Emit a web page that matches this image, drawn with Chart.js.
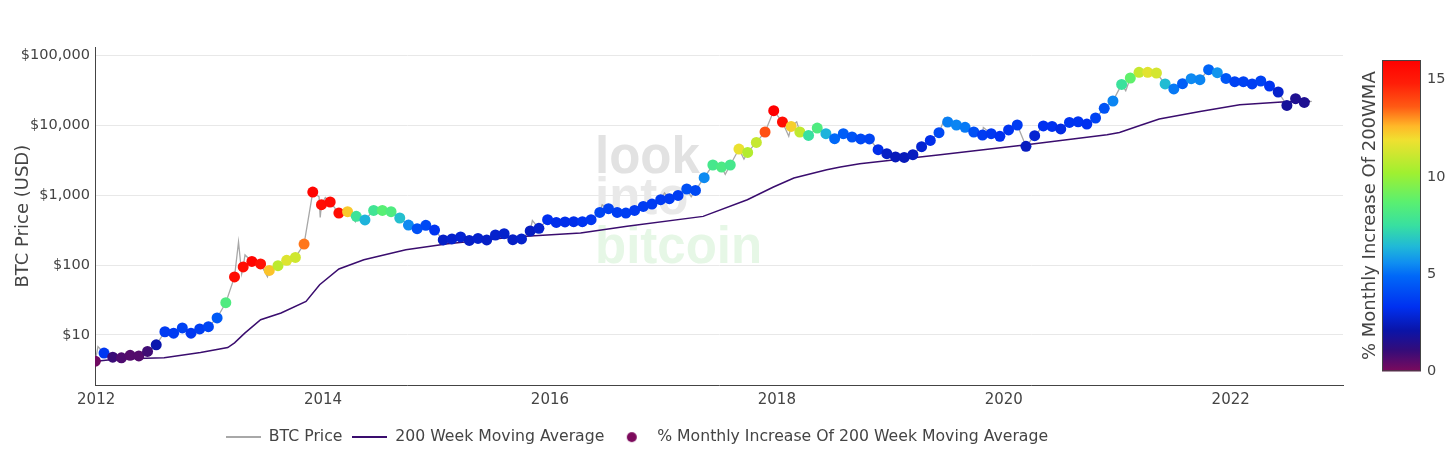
<!DOCTYPE html>
<html>
<head>
<meta charset="utf-8">
<script src="https://cdn.jsdelivr.net/npm/chart.js@4.4.1/dist/chart.umd.min.js"></script>
<style>
  html, body { margin: 0; padding: 0; background: #fff; }
  #wrap { width: 1456px; height: 455px; }
</style>
</head>
<body>
<div id="wrap"><canvas id="btcCanv" width="1456" height="455"></canvas></div>
<script>
/* 4-weekly samples: BTC price and % monthly increase of the 200 week MA */
const sampleStart = 2011.993 // decimal year of the first sample
const sampleStepDays = 28

const markerPrices = [
  4.2, 5.5, 4.8, 4.7, 5.1, 5.0, 5.8, 7.2, 11.1, 10.6,
  12.6, 10.6, 12.2, 13.1, 17.5, 28.9, 67.6, 94, 113, 104,
  84, 98, 117, 129, 200, 1114, 733, 802, 557, 582,
  499, 443, 608, 608, 582, 473, 375, 332, 371, 318,
  229, 237, 253, 226, 241, 229, 270, 282, 231, 237,
  308, 336, 447, 409, 415, 419, 419, 447, 569, 643,
  569, 557, 608, 693, 750, 865, 894, 997, 1231, 1175,
  1786, 2716, 2541, 2716, 4600, 4120, 5730, 8070, 16300, 11220,
  9710, 8070, 7210, 9200, 7640, 6480, 7640, 6840, 6410, 6410,
  4500, 3940, 3540, 3490, 3820, 4970, 6120, 7890, 11220, 10160,
  9400, 8070, 7310, 7640, 6990, 8630, 10160, 5030, 7140, 9840,
  9710, 8920, 11070, 11320, 10490, 12800, 17590, 22440, 38800, 47900,
  57700, 57700, 56500, 39400, 33400, 39700, 46800, 45300, 63000, 57000,
  47300, 42400, 42400, 39400, 43400, 36800, 30200, 19400, 24200, 21400
]
const markerIncrease = [
  0.2, 3.5, 1.0, 0.7, 0.6, 0.6, 0.9, 2.2, 3.6, 3.6,
  3.8, 3.5, 3.7, 3.9, 4.5, 8.3, 15.5, 15.5, 15.8, 15.3,
  12.4, 10.8, 11.5, 11.2, 13.3, 15.8, 15.5, 15.6, 15.5, 12.3,
  7.7, 6.3, 7.8, 8.6, 8.3, 6.6, 5.5, 4.2, 4.0, 3.4,
  2.6, 2.7, 2.8, 2.6, 2.7, 2.6, 2.7, 2.7, 2.6, 2.7,
  2.5, 2.7, 3.3, 3.2, 3.2, 3.2, 3.4, 3.5, 3.9, 3.8,
  3.7, 3.7, 3.6, 3.6, 3.6, 3.6, 3.6, 3.6, 4.2, 4.0,
  5.5, 8.0, 8.2, 8.0, 11.8, 10.6, 11.0, 13.8, 16.0, 15.5,
  12.2, 10.9, 7.5, 8.3, 6.3, 4.9, 4.6, 4.3, 4.0, 3.9,
  3.2, 2.6, 2.4, 2.4, 2.5, 2.8, 3.2, 4.0, 5.3, 5.4,
  5.2, 4.2, 3.6, 3.5, 3.3, 3.4, 3.6, 2.5, 2.8, 3.3,
  3.3, 3.1, 3.4, 3.4, 3.3, 3.8, 4.3, 5.4, 7.6, 8.8,
  11.0, 11.6, 11.3, 6.5, 5.2, 4.6, 5.5, 5.4, 4.8, 5.7,
  4.4, 3.8, 3.8, 3.7, 3.8, 3.4, 2.7, 1.8, 1.6, 1.6
]

/* extra BTC price points between samples (spikes and dips of the daily line) */
const spikeYears = [2012.016, 2013.255, 2013.283, 2013.312, 2013.51, 2013.965, 2013.975, 2014.02,
  2014.285, 2015.845, 2016.46, 2017.01, 2017.245, 2017.545, 2017.71, 2018.105, 2018.175,
  2019.48, 2019.82, 2021.075, 2022.715]
const spikeValues = [6.8, 215, 75, 140, 68, 950, 480, 930,
  420, 435, 730, 1080, 950, 2000, 3300, 7000, 11300,
  12800, 9400, 31500, 22100]

/* 200 week moving average */
const wmaYears = [2012.0, 2012.19, 2012.6, 2012.92, 2013.16, 2013.22, 2013.31, 2013.45, 2013.63,
  2013.85, 2013.97, 2014.14, 2014.36, 2014.73, 2015.10, 2015.68, 2016.27, 2016.68, 2017.35,
  2017.74, 2017.97, 2018.15, 2018.44, 2018.56, 2018.73, 2019.44, 2020.20, 2020.91, 2021.02,
  2021.20, 2021.37, 2021.73, 2022.08, 2022.45, 2022.70]
const wmaValues = [4.2, 4.5, 4.7, 5.6, 6.6, 7.7, 10.6, 16.5, 20.6,
  30.2, 52.4, 88, 119, 166, 203, 253, 289, 359, 499,
  865, 1315, 1770, 2330, 2540, 2840, 3820, 5310, 7380, 7960,
  10020, 12380, 15910, 19860, 21720, 22280]

const xTickYears = [2012, 2014, 2016, 2018, 2020, 2022]
const yTickValues = [10, 100, 1000, 10000, 100000]
const cbTickValues = [0, 5, 10, 15]
const cbMax = 16

/* colour scale of the markers / colorbar */
const colorStopValues = [0, 1.1, 2.1, 3.3, 4.9, 5.6, 6.4, 7.5, 8.7, 10.2, 11.9, 12.6, 13.6, 14.8, 16]
const colorStopColors = ['#7c0a5c', '#330c7a', '#0a14a8', '#0030f0', '#0068f8', '#1090f0', '#20b8d8',
  '#38e0a0', '#5af070', '#a0f030', '#f0e030', '#ffb828', '#ff5a14', '#ff1e08', '#ff0000']

function hexToRgb(h) {
  return [parseInt(h.slice(1, 3), 16), parseInt(h.slice(3, 5), 16), parseInt(h.slice(5, 7), 16)]
}
function colorFor(v) {
  if (v <= colorStopValues[0]) return colorStopColors[0]
  for (let i = 1; i < colorStopValues.length; i++) {
    if (v <= colorStopValues[i]) {
      const t = (v - colorStopValues[i - 1]) / (colorStopValues[i] - colorStopValues[i - 1])
      const a = hexToRgb(colorStopColors[i - 1]), b = hexToRgb(colorStopColors[i])
      const c = a.map((ch, k) => Math.round(ch + (b[k] - ch) * t))
      return `rgb(${c[0]}, ${c[1]}, ${c[2]})`
    }
  }
  return colorStopColors[colorStopColors.length - 1]
}

const markerYears = markerPrices.map((p, i) => sampleStart + i * sampleStepDays / 365.25)
const markerData = markerPrices.map((p, i) => ({x: markerYears[i], y: p}))
const markerColors = markerIncrease.map(colorFor)
const priceData = markerData
  .concat(spikeYears.map((yr, i) => ({x: yr, y: spikeValues[i]})))
  .sort((a, b) => a.x - b.x)
const wmaData = wmaYears.map((yr, i) => ({x: yr, y: wmaValues[i]}))

const PRICE_COLOR = '#a8a8a8'
const WMA_COLOR = '#3a0d6e'
const TEXT_COLOR = '#444'
const FONT = 'DejaVu Sans'

/* little canvases used as legend symbols */
function lineSymbol(color) {
  const c = document.createElement('canvas')
  c.width = 35; c.height = 2
  const x = c.getContext('2d')
  x.fillStyle = color
  x.fillRect(0, 0, 35, 2)
  return c
}
function dotSymbol(color) {
  const c = document.createElement('canvas')
  c.width = 12; c.height = 12
  const x = c.getContext('2d')
  x.fillStyle = color
  x.beginPath(); x.arc(6, 6, 5, 0, Math.PI * 2); x.fill()
  return c
}

/* watermark behind the data */
const watermark = {
  id: 'watermark',
  beforeDatasetsDraw(chart) {
    const {ctx, chartArea} = chart
    const x = chartArea.left + 500
    ctx.save()
    ctx.font = 'bold 51px "Liberation Sans"'
    ctx.textBaseline = 'alphabetic'
    ctx.fillStyle = '#e2e2e2'
    ctx.fillText('look', x, chartArea.top + 126)
    ctx.fillStyle = '#e9e9e9'
    ctx.fillText('into', x, chartArea.top + 167)
    ctx.fillStyle = '#e6f7e6'
    ctx.fillText('bitcoin', x, chartArea.top + 216)
    ctx.restore()
  }
}

/* gradient colorbar drawn on the right hand scale */
const colorbar = {
  id: 'colorbar',
  afterDraw(chart) {
    const s = chart.scales.cb
    const ctx = chart.ctx
    const x0 = s.left + 39, w = 39
    const yb = s.getPixelForValue(0), yt = s.getPixelForValue(cbMax)
    const g = ctx.createLinearGradient(0, yb, 0, yt)
    colorStopValues.forEach((v, i) => g.addColorStop(v / cbMax, colorStopColors[i]))
    ctx.save()
    ctx.fillStyle = g
    ctx.fillRect(x0, yt, w, yb - yt)
    ctx.strokeStyle = TEXT_COLOR
    ctx.lineWidth = 1
    ctx.strokeRect(x0 + 0.5, yt + 0.5, w - 1, yb - yt - 1)
    ctx.translate(s.left + 27, (yt + yb) / 2)
    ctx.rotate(-Math.PI / 2)
    ctx.font = '18px "' + FONT + '"'
    ctx.fillStyle = TEXT_COLOR
    ctx.textAlign = 'center'
    ctx.textBaseline = 'middle'
    ctx.fillText('% Monthly Increase Of 200WMA', 0, 0)
    ctx.restore()
  }
}

/* move the legend under the left part of the plot */
const legendShift = {
  id: 'legendShift',
  afterLayout(chart) {
    chart.legend.left = 216
  }
}

Chart.defaults.font.family = FONT
Chart.defaults.color = TEXT_COLOR

const ctx = document.getElementById('btcCanv')
const btcChart = new Chart(ctx, {
  type: 'scatter',
  data: {
    datasets: [
      {
        label: '% Monthly Increase Of 200 Week Moving Average',
        data: markerData,
        pointRadius: 5.5,
        pointBorderWidth: 0,
        pointBackgroundColor: markerColors,
        pointBorderColor: markerColors,
        showLine: false,
        clip: 0,
        order: 0
      },
      {
        label: '200 Week Moving Average',
        data: wmaData,
        showLine: true,
        borderColor: WMA_COLOR,
        borderWidth: 1.5,
        pointRadius: 0,
        tension: 0,
        order: 1
      },
      {
        label: 'BTC Price',
        data: priceData,
        showLine: true,
        borderColor: PRICE_COLOR,
        borderWidth: 1.3,
        pointRadius: 0,
        tension: 0,
        order: 2
      }
    ]
  },
  options: {
    responsive: false,
    animation: false,
    layout: { padding: { top: 47, left: 0, right: 0, bottom: 0 } },
    scales: {
      x: {
        type: 'linear',
        min: 2011.99,
        max: 2022.99,
        grid: { display: false, drawTicks: false },
        border: { display: true, color: TEXT_COLOR, width: 1 },
        afterBuildTicks: s => { s.ticks = xTickYears.map(v => ({value: v})) },
        afterFit: s => { s.height = 34 },
        ticks: {
          padding: 6,
          maxRotation: 0,
          font: { size: 15 },
          color: TEXT_COLOR,
          callback: v => String(v)
        }
      },
      y: {
        type: 'logarithmic',
        position: 'left',
        min: 1.897,
        max: 133200,
        grid: { color: '#e8e8e8', drawTicks: false },
        border: { display: true, color: TEXT_COLOR, width: 1 },
        afterBuildTicks: s => { s.ticks = yTickValues.map(v => ({value: v})) },
        afterFit: s => { s.width = 95 },
        title: {
          display: true,
          text: 'BTC Price (USD)',
          font: { size: 18 },
          color: TEXT_COLOR,
          padding: { top: 13, bottom: 0 }
        },
        ticks: {
          padding: 5,
          font: { size: 14.5 },
          color: TEXT_COLOR,
          callback: v => '$' + Number(v).toLocaleString('en-US')
        }
      },
      cb: {
        type: 'linear',
        position: 'right',
        min: -0.72,
        max: 16.67,
        grid: { display: false, drawTicks: false },
        border: { display: false },
        afterBuildTicks: s => { s.ticks = cbTickValues.map(v => ({value: v})) },
        afterFit: s => {
          s.width = 113
          // the large label offset must not push the plot area down
          s.paddingTop = 0
          s.paddingBottom = 0
        },
        ticks: {
          padding: 84,
          font: { size: 14.5 },
          color: TEXT_COLOR
        }
      }
    },
    plugins: {
      tooltip: { enabled: false },
      legend: {
        position: 'bottom',
        align: 'start',
        labels: {
          usePointStyle: true,
          pointStyleWidth: 35,
          padding: 10,
          font: { size: 15.7 },
          color: TEXT_COLOR,
          generateLabels: () => [
            { text: 'BTC Price', pointStyle: lineSymbol(PRICE_COLOR), fontColor: TEXT_COLOR, datasetIndex: 2 },
            { text: '200 Week Moving Average', pointStyle: lineSymbol(WMA_COLOR), fontColor: TEXT_COLOR, datasetIndex: 1 },
            { text: '% Monthly Increase Of 200 Week Moving Average', pointStyle: dotSymbol(colorStopColors[0]), fontColor: TEXT_COLOR, datasetIndex: 0 }
          ]
        }
      }
    }
  },
  plugins: [watermark, colorbar, legendShift]
})
window.btcChart = btcChart
</script>
</body>
</html>
